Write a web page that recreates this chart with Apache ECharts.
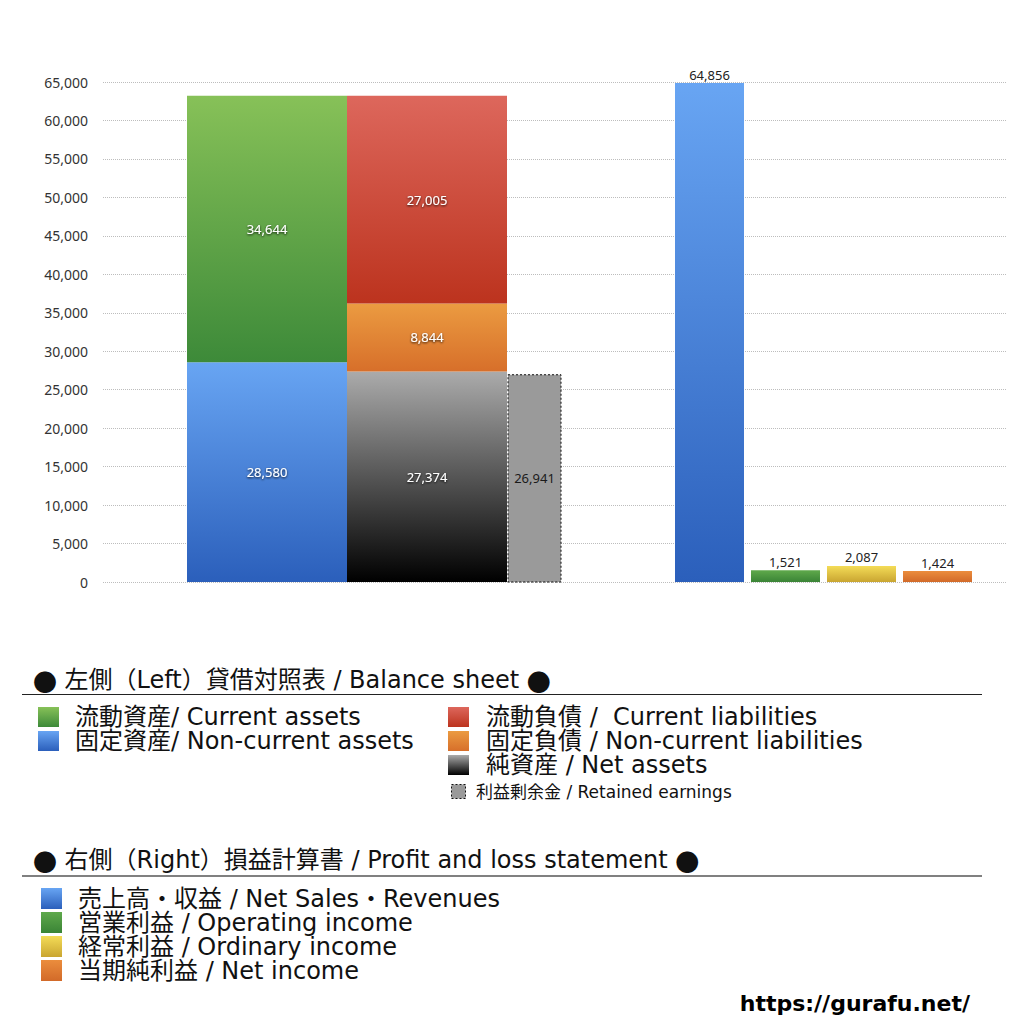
<!DOCTYPE html>
<html><head><meta charset="utf-8">
<script src="https://cdn.jsdelivr.net/npm/echarts@6/dist/echarts.min.js"></script>
<style>html,body{margin:0;padding:0;background:#fff}#c{width:1024px;height:1024px}</style>
</head><body><div id="c"></div>
<script>
// ---------- data ----------
const assetNames = ['固定資産', '流動資産'];
const assetValues = [28580, 34644];
const liabilityNames = ['純資産', '固定負債', '流動負債'];
const liabilityValues = [27374, 8844, 27005];
const retainedNames = ['利益剰余金'];
const retainedValues = [26941];
const plNames = ['売上高・収益', '営業利益', '経常利益', '当期純利益'];
const plValues = [64856, 1521, 2087, 1424];
const yMin = 0, yMax = 65000, yStep = 5000;

const bsHeader = ['左側（Left）貸借対照表 / Balance sheet'];
const bsLegendLeft = ['流動資産/ Current assets', '固定資産/ Non-current assets'];
const bsLegendRight = ['流動負債 /  Current liabilities', '固定負債 / Non-current liabilities', '純資産 / Net assets'];
const retainedLegend = ['利益剰余金 / Retained earnings'];
const plHeader = ['右側（Right）損益計算書 / Profit and loss statement'];
const plLegend = ['売上高・収益 / Net Sales・Revenues', '営業利益 / Operating income', '経常利益 / Ordinary income', '当期純利益 / Net income'];
const siteText = ['https://gurafu.net/'];

// ---------- layout / style (not data) ----------
const xSpan = 903; // hidden x axis units
const slotAssets = [84, 244];
const slotLiab = [244, 404];
const slotRetained = [405, 458];
const slotPL = [[572, 641], [648, 717], [724, 793], [800, 869]];

const C = {
  green: ['#87c158', '#3d8a39'],
  blue: ['#68a5f3', '#2b5fbb'],
  red: ['#dd675c', '#bc331e'],
  orange: ['#eb9b41', '#d76f2a'],
  black: ['#ababab', '#000000'],
  plGreen: ['#5fa94b', '#3a8436'],
  yellow: ['#f4dc57', '#c9a531'],
  plOrange: ['#eb8d3d', '#d26a29'],
  retained: '#9a9a9a'
};
const assetColors = [C.blue, C.green];
const liabColors = [C.black, C.orange, C.red];
const plColors = [C.blue, C.plGreen, C.yellow, C.plOrange];

const FONT_NUM = '"Noto Sans", "DejaVu Sans", sans-serif';
const FONT_LEG = '"DejaVu Sans", "Noto Sans CJK JP", sans-serif';
const FONT_JP = '"Noto Sans CJK JP", sans-serif';

function grad(c) {
  return new echarts.graphic.LinearGradient(0, 0, 0, 1, [
    { offset: 0, color: c[0] }, { offset: 1, color: c[1] }
  ]);
}
function fmt(v) { return Number(v).toLocaleString('en-US'); }

function stackItems(values, slot) {
  let base = 0;
  return values.map(v => { const it = [slot[0], slot[1], base, base + v, v]; base += v; return it; });
}

function makeSeries(name, items, fillFn, opts) {
  return {
    type: 'custom',
    name: name,
    data: items,
    encode: { x: [0, 1], y: [2, 3] },
    clip: false,
    renderItem: function (params, api) {
      const i = params.dataIndex;
      const a = api.coord([api.value(0), api.value(3)]);
      const b = api.coord([api.value(1), api.value(2)]);
      const x = a[0], y = a[1], w = b[0] - a[0], h = b[1] - a[1];
      const rectStyle = Object.assign({ fill: fillFn(i) }, opts.rect || {});
      const children = [{ type: 'rect', shape: { x: x, y: y, width: w, height: h }, style: rectStyle }];
      const lbl = {
        type: 'text',
        style: {
          text: fmt(api.value(4)),
          font: '13px ' + FONT_NUM,
          fill: opts.labelColor,
          align: 'center'
        }
      };
      if (opts.labelPos === 'top') {
        lbl.x = x + w / 2; lbl.y = y - 2; lbl.style.verticalAlign = 'bottom';
      } else {
        lbl.x = x + w / 2; lbl.y = y + h / 2; lbl.style.verticalAlign = 'middle';
      }
      if (opts.shadow) {
        lbl.style.textShadowColor = 'rgba(0,0,0,0.85)';
        lbl.style.textShadowBlur = 2;
        lbl.style.textShadowOffsetY = 1;
      }
      children.push(lbl);
      return { type: 'group', children: children };
    }
  };
}

const series = [
  makeSeries('資産', stackItems(assetValues, slotAssets), i => grad(assetColors[i]), { labelColor: '#fff', shadow: true }),
  makeSeries('負債・純資産', stackItems(liabilityValues, slotLiab), i => grad(liabColors[i]), { labelColor: '#fff', shadow: true }),
  makeSeries('利益剰余金', stackItems(retainedValues, slotRetained), i => C.retained,
    { labelColor: '#1a1a1a', rect: { stroke: '#111', lineWidth: 1, lineDash: [2, 2] } }),
  makeSeries('損益計算書', plValues.map((v, i) => [slotPL[i][0], slotPL[i][1], 0, v, v]), i => grad(plColors[i]),
    { labelColor: '#222', labelPos: 'top' })
];

// ---------- legend (graphic) ----------
const graphic = [];
function txt(x, y, s, size, extra) {
  graphic.push({ type: 'text', x: x, y: y, style: Object.assign({
    text: s, font: size + 'px ' + FONT_LEG, fill: '#111', lineHeight: Math.min(size, 23),
    align: 'left', verticalAlign: 'middle' }, extra || {}) });
}
function box(x, y, w, h, fill, extra) {
  graphic.push({ type: 'rect', shape: { x: x, y: y, width: w, height: h }, style: Object.assign({ fill: fill }, extra || {}) });
}
function line(x1, x2, y, color, wdt) {
  graphic.push({ type: 'line', shape: { x1: x1, y1: y, x2: x2, y2: y }, style: { stroke: color, lineWidth: wdt } });
}
const dotRich = { rich: { d: { fontFamily: FONT_JP, fontSize: 24, lineHeight: 23 } } };

txt(33, 680, '{d|●} ' + bsHeader[0] + ' {d|●}', 24, dotRich);
line(22, 982, 694.5, '#222', 1);
const bsLeftColors = [C.green, C.blue];
bsLegendLeft.forEach((s, i) => { const cy = 717 + i * 24; box(38, cy - 10, 21, 20, grad(bsLeftColors[i])); txt(75, cy, s, 24); });
const bsRightColors = [C.red, C.orange, C.black];
bsLegendRight.forEach((s, i) => { const cy = 717 + i * 24; box(448, cy - 10, 21, 20, grad(bsRightColors[i])); txt(486, cy, s, 24); });
retainedLegend.forEach((s, i) => { const cy = 792; box(451.5, cy - 7.5, 14, 14, C.retained, { stroke: '#111', lineWidth: 1, lineDash: [2, 2] }); txt(476, cy, s, 17); });

txt(33, 860, '{d|●} ' + plHeader[0] + ' {d|●}', 24, dotRich);
line(22, 982, 876, '#808080', 2);
plLegend.forEach((s, i) => { const cy = 899 + i * 24; box(41, cy - 11, 21, 21, grad(plColors[i])); txt(78, cy, s, 24); });

graphic.push({ type: 'text', x: 970, y: 1003, style: {
  text: siteText[0], font: 'bold 22px "DejaVu Sans", sans-serif', fill: '#000', align: 'right', verticalAlign: 'middle' } });

const chart = echarts.init(document.getElementById('c'), null, { renderer: 'svg' });
chart.setOption({
  animation: false,
  backgroundColor: '#fff',
  grid: { left: 103, right: 18, top: 82, bottom: 442, containLabel: false },
  xAxis: { type: 'value', min: 0, max: xSpan, show: false },
  yAxis: {
    type: 'value', min: yMin, max: yMax, interval: yStep,
    axisLine: { show: false }, axisTick: { show: false },
    axisLabel: { formatter: v => fmt(v), fontSize: 14, color: '#333', fontFamily: FONT_NUM, margin: 15 },
    splitLine: { show: true, lineStyle: { type: 'dotted', color: '#bdbdbd', width: 1 } }
  },
  series: series,
  graphic: graphic
});
</script>
</body></html>
